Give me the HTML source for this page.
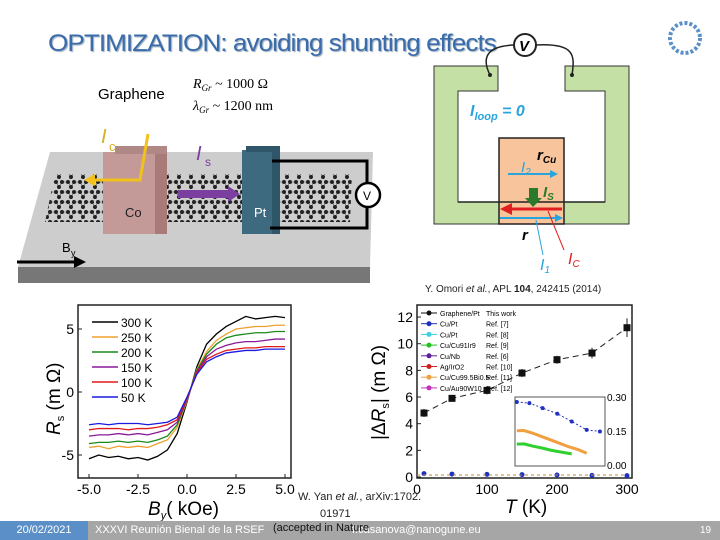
<!DOCTYPE html>
<html><head><meta charset="utf-8"><style>
body{margin:0;width:720px;height:540px;overflow:hidden;background:#fff;font-family:"Liberation Sans",sans-serif;position:relative}
.abs{position:absolute;white-space:nowrap}
</style></head><body>
<div class="abs" style="left:48px;top:30px;font-size:24px;color:#3a6cab;letter-spacing:-0.9px;text-shadow:1px 1px 1px #9ab;transform:scaleX(1.09);transform-origin:left">OPTIMIZATION: avoiding shunting effects</div>
<svg class="abs" style="left:0;top:0" width="720" height="540">
<defs>
<pattern id="hex" width="12" height="10" patternUnits="userSpaceOnUse">
<path d="M2 2L8 2L11 7M2 2L-1 7M11 7L14 2" stroke="#555" stroke-width="0.6" fill="none"/>
<circle cx="2" cy="2" r="2" fill="#222"/><circle cx="8" cy="2" r="2" fill="#222"/><circle cx="-1" cy="7" r="2" fill="#222"/><circle cx="11" cy="7" r="2" fill="#222"/>
</pattern>
</defs>
<g fill="none" stroke="#5a8fc8" stroke-width="4" stroke-dasharray="3 2"><circle cx="685" cy="38" r="15"/></g>
<g>
<polygon points="50,152 373,152 370,267 18,267" fill="#cdcdcd"/>
<polygon points="18,267 370,267 370,283 18,283" fill="#777"/>
<polygon points="55,174 352,174 350,222 45,222" fill="url(#hex)"/>
<rect x="103" y="152" width="52" height="82" fill="#c49a98"/><rect x="155" y="146" width="12" height="88" fill="#a87a78"/><rect x="115" y="146" width="52" height="8" fill="#b08886"/>
<rect x="242" y="150" width="30" height="84" fill="#3d6a7e"/><rect x="272" y="146" width="8" height="88" fill="#2e5668"/><rect x="246" y="146" width="34" height="6" fill="#2e5668"/>
<polyline points="148,134 140,180 92,180" fill="none" stroke="#f2c21a" stroke-width="3"/><polygon points="84,180 95,174 95,186" fill="#f2c21a"/>
<rect x="178" y="190" width="52" height="8" fill="#7b3fa0"/><polygon points="240,194 228,186 228,202" fill="#7b3fa0"/>
<polyline points="272,161 367,161 367,228 270,228" fill="none" stroke="#000" stroke-width="3"/>
<circle cx="368" cy="195" r="12" fill="#fff" stroke="#000" stroke-width="2.5"/><text x="363" y="200" font-size="12">V</text>
<line x1="17" y1="262" x2="76" y2="262" stroke="#000" stroke-width="3"/><polygon points="86,262 74,256 74,268" fill="#000"/>
<text x="62" y="252" font-size="13">B</text><text x="71" y="256" font-size="9">y</text>
<text x="125" y="217" font-size="13" fill="#222">Co</text><text x="254" y="217" font-size="13" fill="#fff">Pt</text>
<text x="101" y="143" font-size="20" fill="#d9b020" font-style="italic">I</text><text x="109" y="151" font-size="13" fill="#d9b020">c</text>
<text x="196" y="160" font-size="20" fill="#7b3fa0" font-style="italic">I</text><text x="205" y="166" font-size="12" fill="#7b3fa0">s</text>
<text x="98" y="99" font-size="15">Graphene</text>
<text x="193" y="88" font-size="14" font-family="Liberation Serif" font-style="italic">R<tspan font-size="9" dy="3">Gr</tspan><tspan dy="-3" font-style="normal"> ~ 1000 Ω</tspan></text>
<text x="193" y="110" font-size="14" font-family="Liberation Serif" font-style="italic">λ<tspan font-size="9" dy="3">Gr</tspan><tspan dy="-3" font-style="normal"> ~ 1200 nm</tspan></text>
</g>
<g>
<path d="M434 66H498V91H458V202H605V91H565V66H629V224H434Z" fill="#c5e0a5" stroke="#333" stroke-width="1"/>
<rect x="499" y="138" width="65" height="86" fill="#f7c49c" stroke="#222" stroke-width="1.5"/>
<line x1="458" y1="202" x2="605" y2="202" stroke="#222" stroke-width="1.5"/>
<circle cx="525" cy="45" r="11" fill="#fff" stroke="#222" stroke-width="2"/><text x="519" y="51" font-size="15" font-weight="bold" font-style="italic">V</text>
<path d="M490 75C480 55 490 46 514 45M536 45C575 43 575 55 572 75" fill="none" stroke="#222" stroke-width="1.5"/>
<circle cx="490" cy="75" r="2" fill="#222"/><circle cx="572" cy="75" r="2" fill="#222"/>
<text x="470" y="116" font-size="16" font-weight="bold" font-style="italic" fill="#2aa4dc">I<tspan font-size="11" dy="4">loop</tspan><tspan dy="-4"> = 0</tspan></text>
<text x="537" y="160" font-size="15" font-weight="bold" font-style="italic">r<tspan font-size="10" dy="3">Cu</tspan></text>
<text x="521" y="172" font-size="15" font-style="italic" fill="#2aa4dc">I<tspan font-size="10" dy="3">2</tspan></text>
<line x1="508" y1="174" x2="552" y2="174" stroke="#2aa4dc" stroke-width="2"/><polygon points="558,174 550,170 550,178" fill="#2aa4dc"/>
<rect x="529" y="188" width="9" height="12" fill="#2b7a2b"/><polygon points="525,198 542,198 533,207" fill="#2b7a2b"/>
<text x="543" y="197" font-size="15" font-weight="bold" font-style="italic" fill="#2b7a2b">I<tspan font-size="10" dy="3">S</tspan></text>
<line x1="511" y1="209" x2="562" y2="209" stroke="#e02020" stroke-width="3"/><polygon points="500,209 512,203 512,215" fill="#e02020"/>
<line x1="500" y1="218" x2="556" y2="218" stroke="#2aa4dc" stroke-width="2"/><polygon points="563,218 555,214 555,222" fill="#2aa4dc"/>
<line x1="536" y1="220" x2="543" y2="255" stroke="#2aa4dc"/><line x1="548" y1="211" x2="564" y2="250" stroke="#e02020"/>
<text x="522" y="240" font-size="15" font-weight="bold" font-style="italic">r</text>
<text x="540" y="270" font-size="16" font-style="italic" fill="#2aa4dc">I<tspan font-size="10" dy="3">1</tspan></text>
<text x="568" y="264" font-size="16" font-style="italic" fill="#e02020">I<tspan font-size="10" dy="3">C</tspan></text>
</g>
<text x="425" y="292" font-size="10" fill="#222">Y. Omori <tspan font-style="italic">et al.</tspan>, APL <tspan font-weight="bold">104</tspan>, 242415 (2014)</text>
<g id="left"></g>
<g id="right"></g>
<text x="298" y="500" font-size="11" fill="#222">W. Yan <tspan font-style="italic">et al.</tspan>, arXiv:1702.</text>
<text x="320" y="517" font-size="11" fill="#222">01971</text>
</svg>
<div class="abs" style="left:0;top:521px;width:720px;height:19px;background:#a6a6a6"></div>
<div class="abs" style="left:0;top:521px;width:88px;height:19px;background:#5b8fc7;color:#fff;font-size:11px;line-height:19px;text-align:center">20/02/2021</div>
<div class="abs" style="left:95px;top:521px;color:#fff;font-size:11px;line-height:19px">XXXVI Reunión Bienal de la RSEF</div>
<div class="abs" style="left:352px;top:521px;color:#fff;font-size:11px;line-height:19px">f.casanova@nanogune.eu</div>
<div class="abs" style="left:273px;top:519px;color:#111;font-size:11px;line-height:19px">(accepted in Nature</div>
<div class="abs" style="left:700px;top:521px;color:#fff;font-size:10px;line-height:19px">19</div>
<script>
const fieldB=[-5,-4.5,-4,-3.5,-3,-2.5,-2,-1.5,-1,-0.5,0,0.5,1,1.5,2,2.5,3,3.5,4,4.5,5];
const temps=["300 K","250 K","200 K","150 K","100 K","50 K"];
const r300=[-5.3,-5.0,-5.2,-5.1,-5.3,-5.2,-5.4,-5.1,-4.6,-3.3,-0.8,2.0,3.8,4.6,5.2,5.6,6.0,5.8,5.9,6.0,5.9];
const r250=[-4.4,-4.3,-4.5,-4.3,-4.4,-4.3,-4.4,-4.1,-3.8,-2.8,-0.7,1.8,3.2,4.1,4.6,5.0,5.1,5.2,5.2,5.3,5.3];
const r200=[-4.1,-4.0,-4.0,-3.9,-4.0,-3.9,-4.0,-3.8,-3.5,-2.6,-0.6,1.7,3.0,3.8,4.3,4.5,4.6,4.7,4.7,4.8,4.8];
const r150=[-3.5,-3.4,-3.4,-3.3,-3.4,-3.3,-3.4,-3.2,-3.0,-2.4,-0.6,1.6,2.8,3.4,3.7,3.9,4.0,4.0,4.1,4.2,4.2];
const r100=[-3.0,-2.9,-2.9,-2.9,-3.0,-2.9,-2.9,-2.8,-2.6,-2.2,-0.5,1.5,2.6,3.0,3.3,3.4,3.5,3.5,3.6,3.6,3.6];
const r50=[-2.6,-2.5,-2.6,-2.5,-2.5,-2.5,-2.6,-2.5,-2.4,-2.0,-0.4,1.4,2.4,2.8,3.1,3.2,3.3,3.3,3.4,3.4,3.4];
const xTicksL=["-5.0","-2.5","0.0","2.5","5.0"];
const yTicksL=["5","0","-5"];
const tempK=[10,50,100,150,200,250,300];
const grPt=[4.8,5.9,6.5,7.8,8.8,9.3,11.2];
const grErr=[0.3,0.2,0.3,0.3,0.3,0.4,0.7];
const cuPt=[0.25,0.22,0.2,0.18,0.15,0.12,0.1];
const xTicksR=["0","100","200","300"];
const yTicksR=["0","2","4","6","8","10","12"];
const insetBlueT=[6,48,92,141,189,239,283];
const insetBlue=[0.278,0.273,0.251,0.226,0.192,0.155,0.148];
const insetOrangeT=[6,30,60,90,120,150,180,210,239];
const insetOrange=[0.151,0.152,0.14,0.125,0.11,0.095,0.08,0.068,0.052];
const insetGreenT=[6,30,60,90,120,150,189];
const insetGreen=[0.092,0.093,0.083,0.075,0.065,0.058,0.049];
const insetTicks=["0.30","0.15","0.00"];
const NS="http://www.w3.org/2000/svg";
function mk(p,t,a){const e=document.createElementNS(NS,t);for(const k in a)e.setAttribute(k,a[k]);p.appendChild(e);return e;}
const L=document.getElementById('left');
const lx=v=>89+(v+5)*19.6, ly=v=>392-v*12.6;
let fr=mk(L,'rect',{x:78,y:305,width:213,height:173,fill:'none',stroke:'#222','stroke-width':1.5});


xTicksL.forEach(t=>{let v=parseFloat(t);let e=mk(L,'text',{x:lx(v),y:494,'font-size':14,'text-anchor':'middle'});e.textContent=t;


mk(L,'line',{x1:lx(v),x2:lx(v),y1:478,y2:474,stroke:'#222'});});
yTicksL.forEach(t=>{let v=parseFloat(t);let e=mk(L,'text',{x:74,y:ly(v)+5,'font-size':14,'text-anchor':'end'});e.textContent=t;


mk(L,'line',{x1:78,x2:82,y1:ly(v),y2:ly(v),stroke:'#222'});});
const seriesL=[r300,r250,r200,r150,r100,r50], colL=['#000','#f0a030','#1a8a1a','#8a1a9a','#e01a1a','#1a1ae0'];
seriesL.forEach((s,i)=>{let p=mk(L,'polyline',{points:s.map((v,j)=>lx(fieldB[j])+','+ly(v)).join(' '),fill:'none',stroke:colL[i],'stroke-width':1.3});


mk(L,'line',{x1:92,x2:118,y1:322+i*15,y2:322+i*15,stroke:colL[i],'stroke-width':1.5});
let e=mk(L,'text',{x:121,y:327+i*15,'font-size':12});e.textContent=temps[i];

});
let xl=mk(L,'text',{x:148,y:515,'font-size':19});xl.innerHTML='<tspan font-style="italic">B</tspan><tspan font-size="11" dy="4" font-style="italic">y</tspan><tspan dy="-4">( kOe)</tspan>';


let yl=mk(L,'text',{x:0,y:0,'font-size':19,transform:'translate(60,435) rotate(-90)'});yl.innerHTML='<tspan font-style="italic">R</tspan><tspan font-size="11" dy="4">s</tspan><tspan dy="-4">  (m Ω)</tspan>';


const R=document.getElementById('right');
const rx=v=>417+v*0.7, ry=v=>477-v*13.33;
let fr2=mk(R,'rect',{x:417,y:305,width:215,height:173,fill:'none',stroke:'#222','stroke-width':1.5});


xTicksR.forEach(t=>{let v=+t;let e=mk(R,'text',{x:rx(v),y:494,'font-size':14,'text-anchor':'middle'});e.textContent=t;

});
yTicksR.forEach(t=>{let v=+t;let e=mk(R,'text',{x:413,y:ry(v)+5,'font-size':14,'text-anchor':'end'});e.textContent=t;


mk(R,'line',{x1:417,x2:421,y1:ry(v),y2:ry(v),stroke:'#222'});});
let gl=mk(R,'polyline',{points:tempK.map((t,i)=>rx(t)+','+ry(grPt[i])).join(' '),fill:'none',stroke:'#222','stroke-dasharray':'6 4'});


tempK.forEach((t,i)=>{mk(R,'line',{x1:rx(t),x2:rx(t),y1:ry(grPt[i]-grErr[i]),y2:ry(grPt[i]+grErr[i]),stroke:'#222'});
let m=mk(R,'rect',{x:rx(t)-3.5,y:ry(grPt[i])-3.5,width:7,height:7,fill:'#111'});


let c=mk(R,'circle',{cx:rx(t),cy:ry(cuPt[i]),r:2.5,fill:'#2030c0'});

});
mk(R,'line',{x1:rx(0),x2:rx(300),y1:ry(0.15),y2:ry(0.15),stroke:'#c08a30','stroke-dasharray':'3 3'});
const legR=[['Graphene/Pt','This work','#111'],['Cu/Pt','Ref. [7]','#2030c0'],['Cu/Pt','Ref. [8]','#3cd0e0'],['Cu/Cu91Ir9','Ref. [9]','#20c020'],['Cu/Nb','Ref. [6]','#6020a0'],['Ag/IrO2','Ref. [10]','#d02020'],['Cu/Cu99.5Bi0.5','Ref. [11]','#f0a040'],['Cu/Au90W10','Ref. [12]','#c030c0']];
legR.forEach((l,i)=>{let y=313+i*10.7;mk(R,'line',{x1:421,x2:437,y1:y,y2:y,stroke:l[2]});mk(R,'circle',{cx:429,cy:y,r:2.5,fill:l[2]});
let e=mk(R,'text',{x:440,y:y+3,'font-size':7});e.textContent=l[0];


let f=mk(R,'text',{x:486,y:y+3,'font-size':7});f.textContent=l[1];});
const ix=v=>515+v*0.3, iy=v=>465-v*226.7;
let ir=mk(R,'rect',{x:515,y:397,width:90,height:69,fill:'#fff',stroke:'#555'});


insetTicks.forEach(t=>{let e=mk(R,'text',{x:607,y:iy(+t)+4,'font-size':10});e.textContent=t;

});
mk(R,'polyline',{points:insetBlueT.map((t,i)=>ix(t)+','+iy(insetBlue[i])).join(' '),fill:'none',stroke:'#2030c0','stroke-dasharray':'2 2'});
insetBlueT.forEach((t,i)=>{let c=mk(R,'circle',{cx:ix(t),cy:iy(insetBlue[i]),r:2,fill:'#2030c0'});

});
let po=mk(R,'polyline',{points:insetOrangeT.map((t,i)=>ix(t)+','+iy(insetOrange[i])).join(' '),fill:'none',stroke:'#f0a040','stroke-width':3});


let pg=mk(R,'polyline',{points:insetGreenT.map((t,i)=>ix(t)+','+iy(insetGreen[i])).join(' '),fill:'none',stroke:'#30d030','stroke-width':3});


let xr=mk(R,'text',{x:505,y:513,'font-size':19});xr.innerHTML='<tspan font-style="italic">T</tspan> (K)';


let yr=mk(R,'text',{x:0,y:0,'font-size':19,transform:'translate(385,440) rotate(-90)'});yr.innerHTML='|Δ<tspan font-style="italic">R</tspan><tspan font-size="11" dy="4">s</tspan><tspan dy="-4">| (m Ω)</tspan>';


</script>
</body></html>
